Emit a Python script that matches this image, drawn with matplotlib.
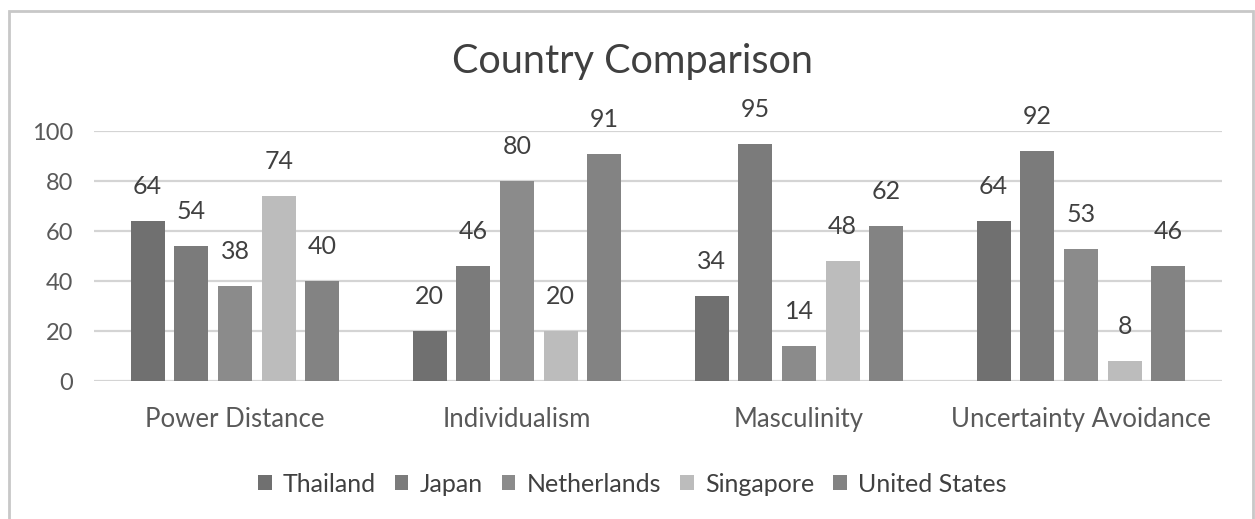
import matplotlib
matplotlib.use("Agg")
import matplotlib.pyplot as plt
from matplotlib.patches import Rectangle, Patch
import numpy as np

categories = ["Power Distance", "Individualism", "Masculinity", "Uncertainty Avoidance"]
countries = ["Thailand", "Japan", "Netherlands", "Singapore", "United States"]
thailand = [64, 20, 34, 64]
japan = [54, 46, 95, 92]
netherlands = [38, 80, 14, 53]
singapore = [74, 20, 48, 8]
united_states = [40, 91, 62, 46]
series = [thailand, japan, netherlands, singapore, united_states]
colors = ["#707070", "#7b7b7b", "#8b8b8b", "#bcbcbc", "#838383"]

plt.rcParams["font.family"] = ["Lato", "DejaVu Sans"]
text_color = "#404040"
tick_color = "#595959"

fig = plt.figure(figsize=(12.55, 5.19), dpi=100)
fig.patch.set_facecolor("white")

# outer chart frame
fig.add_artist(Rectangle((9 / 1255, -0.1), (1253 - 9) / 1255, 1.1 - 11 / 519,
                         transform=fig.transFigure, fill=False,
                         edgecolor="#c8c8c8", linewidth=2))

ax = fig.add_axes([94 / 1255, 1 - 381 / 519, (1222 - 94) / 1255, 250 / 519])
x = np.arange(len(categories))
pitch = 0.155
width = 0.121
for i, (vals, col, name) in enumerate(zip(series, colors, countries)):
    xs = x + (i - 2) * pitch
    ax.bar(xs, vals, width=width, color=col, label=name, zorder=3)
    for xv, v in zip(xs, vals):
        ax.annotate(str(v), (xv, v), xytext=(0, 24.5), textcoords="offset points",
                    ha="center", va="center", fontsize=18, color=text_color)

ax.set_xlim(-0.5, len(categories) - 0.5)
ax.set_ylim(0, 100)
ax.set_yticks(range(0, 101, 20))
ax.set_xticks(x)
ax.set_xticklabels(categories)
ax.tick_params(axis="y", length=0, labelsize=17, colors=tick_color, pad=15)
ax.tick_params(axis="x", length=0, labelsize=18.5, colors=tick_color, pad=19)
ax.grid(axis="y", color="#d4d4d4", linewidth=1.6, zorder=0)
for s in ax.spines.values():
    s.set_visible(False)

fig.text(632 / 1255, 1 - 62 / 519, "Country Comparison", ha="center", va="center",
         fontsize=28.5, color=text_color)

handles = [Patch(facecolor=c, label=n) for c, n in zip(colors, countries)]
fig.legend(handles=handles, loc="center", bbox_to_anchor=(632 / 1255, 1 - 484 / 519),
           ncol=5, frameon=False, fontsize=18, handlelength=0.55, handleheight=0.55,
           handletextpad=0.45, columnspacing=0.75, labelcolor=text_color)

fig.savefig("out.png", dpi=100)
